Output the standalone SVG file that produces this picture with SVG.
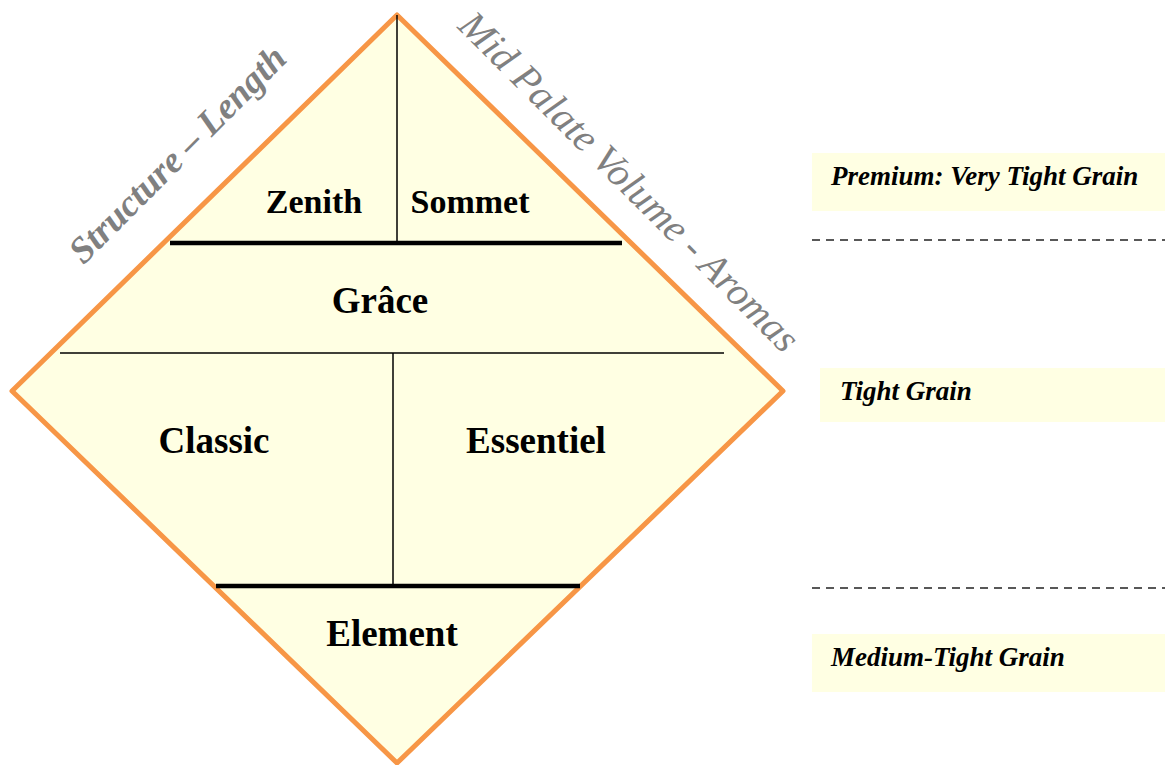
<svg xmlns="http://www.w3.org/2000/svg" width="1165" height="765" viewBox="0 0 1165 765">
<style>
.lbl{font-family:"Liberation Serif","Times New Roman",serif;font-weight:bold;fill:#000;text-anchor:middle}
.side{font-family:"Liberation Serif","Times New Roman",serif;font-weight:bold;font-style:italic;font-size:27px;fill:#000}
.axis{font-family:"Liberation Serif","Times New Roman",serif;font-style:italic;fill:#808080;text-anchor:middle}
.box{fill:#FFFFE3}
.thin{stroke:#000;stroke-width:1.5}
.thick{stroke:#000;stroke-width:4.5}
.dash{stroke:#222;stroke-width:1.5;stroke-dasharray:8 6}
</style>
<rect width="1165" height="765" fill="#fff"/>
<g id="diamond">
<polygon points="397,15 783,391 397,763 12,391" fill="#FFFFE3" stroke="#F79646" stroke-width="5" stroke-linejoin="round"/>
</g>
<g id="connectors">
<line class="thin" x1="397" y1="15" x2="397" y2="243"/>
<line class="thick" x1="170" y1="243" x2="622" y2="243"/>
<line class="thin" x1="60" y1="353" x2="724" y2="353"/>
<line class="thin" x1="393" y1="353" x2="393" y2="586"/>
<line class="thick" x1="216" y1="586" x2="580" y2="586"/>
<line class="dash" x1="812" y1="240" x2="1165" y2="240"/>
<line class="dash" x1="812" y1="588" x2="1165" y2="588"/>
</g>
<g id="zenith"><text class="lbl" x="314" y="213" font-size="34">Zenith</text></g>
<g id="sommet"><text class="lbl" x="470" y="213" font-size="34">Sommet</text></g>
<g id="grace"><text class="lbl" x="380" y="313" font-size="37">Grâce</text></g>
<g id="classic"><text class="lbl" x="214" y="453" font-size="37">Classic</text></g>
<g id="essentiel"><text class="lbl" x="536" y="453" font-size="37">Essentiel</text></g>
<g id="element"><text class="lbl" x="392" y="646" font-size="37">Element</text></g>
<g id="axis-structure"><text class="axis" font-weight="bold" font-size="37" transform="translate(186,163) rotate(-45)">Structure – Length</text></g>
<g id="axis-midpalate"><text class="axis" font-size="40" transform="translate(620,191) rotate(45)">Mid Palate Volume - Aromas</text></g>
<g id="premium"><rect class="box" x="812" y="153" width="353" height="58"/><text class="side" x="831" y="185">Premium: Very Tight Grain</text></g>
<g id="tight"><rect class="box" x="820" y="368" width="345" height="54"/><text class="side" x="840" y="400">Tight Grain</text></g>
<g id="medium"><rect class="box" x="812" y="634" width="353" height="58"/><text class="side" x="831" y="666">Medium-Tight Grain</text></g>
</svg>
